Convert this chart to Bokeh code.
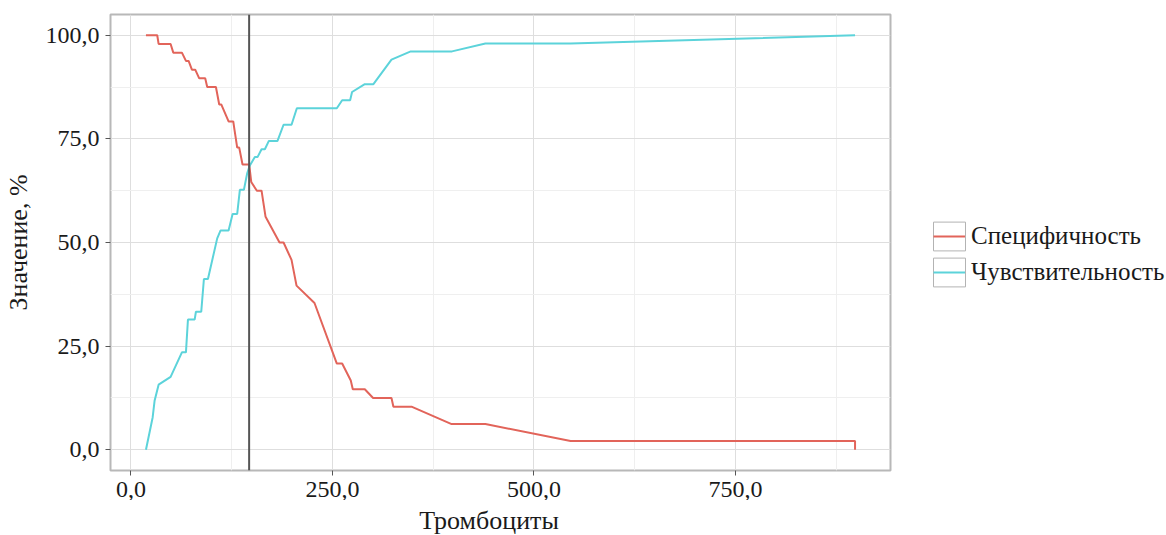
from bokeh.plotting import figure
from bokeh.layouts import row, column
from bokeh.models import (ColumnDataSource, Span, FixedTicker, Legend, LegendItem, Range1d)
from bokeh.core.properties import value
from bokeh.embed import file_html
from bokeh.resources import INLINE

# ---- data ----
spec_x = [18.6, 32.6, 34.3, 49.2, 52.5, 63.2, 68.2, 71.5, 75.6, 79.7, 84.7, 92.1,
          94.6, 105.4, 109.5, 112.0, 121.1, 126.9, 128.5, 131.8, 134.3, 138.4,
          146.7, 149.2, 156.2, 162.0, 167.0, 184.3, 189.3, 199.2, 205.4, 227.7,
          255.4, 262.0, 272.7, 275.2, 290.1, 300.4, 323.2, 325.6, 348.0, 397.8,
          439.7, 545.4, 898.3, 898.3]
spec_y = [100.0, 100.0, 97.9, 97.9, 95.8, 95.8, 93.8, 93.8, 91.7, 91.7, 89.6, 89.6,
          87.5, 87.5, 83.3, 83.3, 79.2, 79.2, 77.1, 72.9, 72.9, 68.8,
          68.8, 64.6, 62.5, 62.5, 56.2, 50.0, 50.0, 45.8, 39.6, 35.4,
          20.8, 20.8, 16.7, 14.6, 14.6, 12.5, 12.5, 10.4, 10.4, 6.2,
          6.2, 2.1, 2.1, 0.0]

sens_x = [18.6, 26.9, 29.3, 34.3, 49.2, 63.2, 68.2, 70.7, 79.0, 80.6, 87.2, 90.5,
          95.5, 107.0, 111.2, 121.1, 126.1, 131.8, 135.1, 140.1, 144.2, 147.5,
          153.7, 157.0, 162.0, 166.1, 171.1, 181.8, 189.3, 199.2, 205.8, 255.4,
          262.0, 271.9, 274.3, 290.1, 300.8, 323.2, 347.1, 398.3, 439.7, 545.4,
          898.3]
sens_y = [0.0, 7.8, 11.8, 15.7, 17.6, 23.5, 23.5, 31.4, 31.4, 33.3, 33.3, 41.2,
          41.2, 51.0, 52.9, 52.9, 56.9, 56.9, 62.7, 62.7, 66.7, 68.6,
          70.6, 70.6, 72.5, 72.5, 74.5, 74.5, 78.4, 78.4, 82.4, 82.4,
          84.3, 84.3, 86.3, 88.2, 88.2, 94.1, 96.1, 96.1, 98.0, 98.0,
          100.0]

cutoff = 146.6

series_names = ["Специфичность", "Чувствительность"]
series_colors = ["#E2645A", "#5CD3DA"]

x_ticks = [0, 250, 500, 750]
x_tick_labels = ["0,0", "250,0", "500,0", "750,0"]
y_ticks = [0, 25, 50, 75, 100]
y_tick_labels = ["0,0", "25,0", "50,0", "75,0", "100,0"]

x_title = "Тромбоциты"
y_title = "Значение, %"

FONT = "Liberation Serif"
TXT = "#1a1a1a"

# ---- layout sizes (pixels) ----
MAIN_W, MAIN_H = 892, 500
TITLE_H = 535 - MAIN_H
LEG_W = 1166 - MAIN_W
FRAME_L, FRAME_R = 109, 2

# ---- ranges with ggplot-like 5% expansion ----
all_x = spec_x + sens_x
xmin, xmax = min(all_x), max(all_x)
xpad = 0.05 * (xmax - xmin)
ymin, ymax = min(spec_y + sens_y), max(spec_y + sens_y)
ypad = 0.05 * (ymax - ymin)

p = figure(width=MAIN_W, height=MAIN_H, output_backend="svg", toolbar_location=None,
           x_range=Range1d(xmin - xpad, xmax + xpad),
           y_range=Range1d(ymin - ypad, ymax + ypad),
           min_border_left=FRAME_L, min_border_right=FRAME_R,
           min_border_top=14, min_border_bottom=30)

p.background_fill_color = "white"
p.border_fill_color = "white"
p.outline_line_color = "#B8B8B8"
p.outline_line_width = 2

# ticks & grid
x_minor = [(a + b) / 2 for a, b in zip(x_ticks, x_ticks[1:])] + [x_ticks[-1] + (x_ticks[1] - x_ticks[0]) / 2]
y_minor = [(a + b) / 2 for a, b in zip(y_ticks, y_ticks[1:])]
p.xaxis.ticker = FixedTicker(ticks=x_ticks, minor_ticks=x_minor)
p.yaxis.ticker = FixedTicker(ticks=y_ticks, minor_ticks=y_minor)
p.xaxis.major_label_overrides = dict(zip(x_ticks, x_tick_labels))
p.yaxis.major_label_overrides = dict(zip(y_ticks, y_tick_labels))

for g in (p.xgrid, p.ygrid):
    g.grid_line_color = "#DEDEDE"
    g.grid_line_width = 1
    g.minor_grid_line_color = "#EFEFEF"
    g.minor_grid_line_width = 1

for ax in (p.xaxis, p.yaxis):
    ax.axis_line_color = None
    ax.major_tick_in = 0
    ax.major_tick_out = 5
    ax.major_tick_line_color = "#555555"
    ax.major_tick_line_width = 1
    ax.minor_tick_line_color = None
    ax.major_label_text_font = FONT
    ax.major_label_text_font_size = "24px"
    ax.major_label_text_color = TXT
    ax.axis_label_text_font = FONT
    ax.axis_label_text_font_size = "26px"
    ax.axis_label_text_font_style = "normal"
    ax.axis_label_text_color = TXT

p.yaxis.axis_label = y_title
p.yaxis.major_label_standoff = 6
p.yaxis.axis_label_standoff = 10
p.xaxis.major_label_standoff = 6

# series
r_spec = p.line(spec_x, spec_y, line_color=series_colors[0], line_width=2)
r_sens = p.line(sens_x, sens_y, line_color=series_colors[1], line_width=2)

# cutoff line
p.add_layout(Span(location=cutoff, dimension="height", line_color="#555555", line_width=2))

# ---- x axis title strip (its frame is aligned with the main frame) ----
t = figure(width=MAIN_W, height=TITLE_H, output_backend="svg", toolbar_location=None,
           x_range=Range1d(FRAME_L, MAIN_W - FRAME_R), y_range=Range1d(0, TITLE_H),
           x_axis_location=None, y_axis_location=None,
           min_border_left=FRAME_L, min_border_right=FRAME_R,
           min_border_top=0, min_border_bottom=0)
t.outline_line_color = None
t.grid.visible = False
t.text(x=[488], y=[15], text=[x_title], text_align="center", text_baseline="middle",
       text_font=value(FONT), text_font_size="26px", text_color=TXT)

# ---- legend panel ----
q = figure(width=LEG_W, height=535, output_backend="svg", toolbar_location=None,
           x_range=Range1d(0, LEG_W), y_range=Range1d(0, 535),
           x_axis_location=None, y_axis_location=None, min_border=0)
q.outline_line_color = None
q.grid.visible = False

dummy = ColumnDataSource(dict(x=[0, 1], y=[0, 0]))
k_box = q.rect(x="x", y="y", width=1, height=1, source=dummy,
               fill_color="white", line_color="#B3B3B3", line_width=1)
k_spec = q.line(x="x", y="y", source=dummy, line_color=series_colors[0], line_width=2)
k_sens = q.line(x="x", y="y", source=dummy, line_color=series_colors[1], line_width=2)
for r in (k_box, k_spec, k_sens):
    r.visible = False

common = dict(padding=0, margin=0, spacing=0, border_line_color=None,
              background_fill_alpha=0, label_text_font=FONT,
              label_text_font_size="25px", label_text_color=TXT, glyph_height=36)

legend_boxes = Legend(items=[LegendItem(label=" ", renderers=[k_box]),
                             LegendItem(label=" ", renderers=[k_box])],
                      location=(37, 245), glyph_width=40, **common)
legend_lines = Legend(items=[LegendItem(label=series_names[0], renderers=[k_spec]),
                             LegendItem(label=series_names[1], renderers=[k_sens])],
                      location=(41, 245), glyph_width=32, label_standoff=6, **common)
q.add_layout(legend_boxes)
q.add_layout(legend_lines)

layout = row(column(p, t), q)
open("out.html", "w").write(file_html(layout, INLINE))
